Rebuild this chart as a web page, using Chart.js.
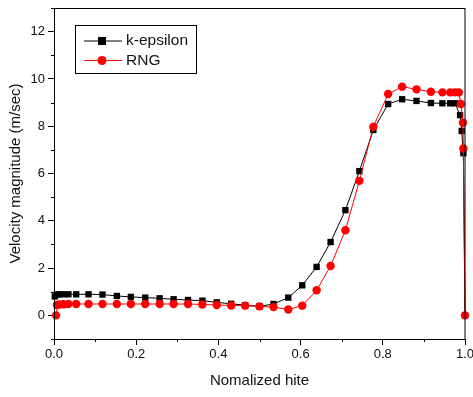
<!DOCTYPE html>
<html lang="en">
<head>
  <meta charset="UTF-8" />
  <title>Velocity magnitude</title>
  <script src="https://cdn.jsdelivr.net/npm/chart.js"></script>
  <style>
    body { margin: 0; background: #fff; }
    #wrap { width: 473px; height: 397px; }
  </style>
</head>
<body>
  <div id="wrap"><canvas id="velChart" width="473" height="397"></canvas></div>
  <script>
    // k-epsilon series
    const keX = [0.002, 0.007, 0.013, 0.023, 0.035, 0.054, 0.084, 0.118, 0.153, 0.187, 0.222, 0.257, 0.291,
                 0.326, 0.361, 0.396, 0.431, 0.465, 0.50, 0.534, 0.570, 0.604, 0.639, 0.673, 0.709, 0.743,
                 0.777, 0.813, 0.847, 0.882, 0.917, 0.945, 0.964, 0.976, 0.988, 0.992, 0.996, 1.0];
    const keY = [0.80, 0.88, 0.89, 0.89, 0.89, 0.89, 0.89, 0.88, 0.82, 0.78, 0.75, 0.72, 0.68,
                 0.65, 0.62, 0.55, 0.49, 0.43, 0.38, 0.48, 0.75, 1.27, 2.05, 3.10, 4.45, 6.10,
                 7.84, 8.94, 9.14, 9.07, 8.98, 8.97, 8.97, 8.97, 8.47, 7.80, 6.86, 0];

    // RNG series
    const rngX = [0.005, 0.007, 0.013, 0.023, 0.035, 0.054, 0.084, 0.118, 0.153, 0.187, 0.222, 0.257, 0.291,
                  0.326, 0.361, 0.396, 0.431, 0.465, 0.50, 0.534, 0.570, 0.604, 0.639, 0.673, 0.709, 0.743,
                  0.777, 0.813, 0.847, 0.882, 0.917, 0.945, 0.964, 0.976, 0.985, 0.990, 0.995, 0.996, 1.0];
    const rngY = [0, 0.44, 0.46, 0.47, 0.48, 0.48, 0.48, 0.48, 0.48, 0.48, 0.48, 0.48, 0.48,
                  0.48, 0.46, 0.44, 0.42, 0.41, 0.38, 0.35, 0.25, 0.41, 1.06, 2.09, 3.60, 5.69,
                  7.98, 9.36, 9.67, 9.56, 9.46, 9.43, 9.43, 9.43, 9.43, 8.94, 8.15, 7.06, 0];

    const xTicks = [0, 0.2, 0.4, 0.6, 0.8, 1.0];
    const xMinor = [0.1, 0.3, 0.5, 0.7, 0.9];
    const yTicks = [0, 2, 4, 6, 8, 10, 12];
    const yMinor = [-1, 1, 3, 5, 7, 9, 11, 13];

    const FONT = "Arial, 'Liberation Sans', sans-serif";
    const INK = "#111";

    const toPoints = (xs, ys) => xs.map((x, i) => ({ x: x, y: ys[i] }));

    // minor ticks, frame and legend
    const extras = {
      id: "extras",
      afterDraw(chart) {
        const c = chart.ctx;
        const a = chart.chartArea;
        const xs = chart.scales.x, ys = chart.scales.y;
        c.save();
        c.strokeStyle = "#000";
        c.lineWidth = 1;
        c.strokeRect(a.left + 0.5, a.top + 0.5, a.right - a.left - 0.5, a.bottom - a.top);
        c.beginPath();
        xMinor.forEach(v => {
          const px = Math.round(xs.getPixelForValue(v)) + 0.5;
          c.moveTo(px, a.bottom); c.lineTo(px, a.bottom + 3);
        });
        yMinor.forEach(v => {
          const py = Math.round(ys.getPixelForValue(v)) + 0.5;
          c.moveTo(a.left, py); c.lineTo(a.left - 3, py);
        });
        c.stroke();

        // legend box
        const bx = 75.5, by = 25.5, bw = 121, bh = 48;
        c.fillStyle = "#fff";
        c.fillRect(bx, by, bw, bh);
        c.strokeRect(bx, by, bw, bh);
        c.font = "15.5px " + FONT;
        c.textBaseline = "middle";
        chart.data.datasets.forEach((ds, i) => {
          const ly = 41 + i * 19.5;
          c.strokeStyle = ds.borderColor;
          c.beginPath();
          c.moveTo(84, ly); c.lineTo(122, ly);
          c.stroke();
          c.fillStyle = ds.pointBackgroundColor;
          if (ds.pointStyle === "rect") {
            c.fillRect(98, ly - 4, 8, 8);
          } else {
            c.beginPath(); c.arc(102, ly, 4.5, 0, Math.PI * 2); c.fill();
          }
          c.fillStyle = INK;
          c.fillText(ds.label, 126, ly);
        });
        c.restore();
      }
    };

    new Chart(document.getElementById("velChart"), {
      type: "scatter",
      data: {
        datasets: [
          {
            label: "k-epsilon",
            data: toPoints(keX, keY),
            showLine: true,
            order: 1,
            borderColor: "#000",
            borderWidth: 1,
            pointStyle: "rect",
            pointRadius: 4.5,
            pointBackgroundColor: "#000",
            pointBorderColor: "#000",
            pointBorderWidth: 0,
            clip: false
          },
          {
            label: "RNG",
            data: toPoints(rngX, rngY),
            showLine: true,
            order: 0,
            borderColor: "#ff0000",
            borderWidth: 1,
            pointStyle: "circle",
            pointRadius: 4.2,
            pointBackgroundColor: "#ff0000",
            pointBorderColor: "#ff0000",
            pointBorderWidth: 0,
            clip: false
          }
        ]
      },
      options: {
        responsive: false,
        animation: false,
        layout: { padding: { top: 8, right: 8, left: 0, bottom: 0 } },
        plugins: { legend: { display: false }, tooltip: { enabled: false } },
        scales: {
          x: {
            type: "linear",
            min: 0,
            max: 1,
            afterBuildTicks: s => { s.ticks = xTicks.map(v => ({ value: v })); },
            afterFit: s => { s.height = 58; s.paddingLeft = 0; s.paddingRight = 0; },
            ticks: {
              padding: 2,
              color: INK,
              font: { family: FONT, size: 13 },
              callback: v => v.toFixed(1)
            },
            grid: { drawOnChartArea: false, tickLength: 6, color: "#000", tickColor: "#000" },
            border: { color: "#000", width: 1 },
            title: {
              display: true,
              text: "Nomalized hite",
              color: INK,
              font: { family: FONT, size: 15 },
              padding: { top: 0, bottom: 7 }
            }
          },
          y: {
            type: "linear",
            min: -1,
            max: 13,
            afterBuildTicks: s => { s.ticks = yTicks.map(v => ({ value: v })); },
            afterFit: s => { s.width = 54; s.paddingTop = 0; s.paddingBottom = 0; },
            ticks: {
              padding: 3,
              color: INK,
              font: { family: FONT, size: 13 },
              callback: v => String(v)
            },
            grid: { drawOnChartArea: false, tickLength: 6, color: "#000", tickColor: "#000" },
            border: { color: "#000", width: 1 },
            title: {
              display: true,
              text: "Velocity magnitude (m/sec)",
              color: INK,
              font: { family: FONT, size: 15 },
              padding: { top: 7, bottom: 0 }
            }
          }
        }
      },
      plugins: [extras]
    });
  </script>
</body>
</html>
